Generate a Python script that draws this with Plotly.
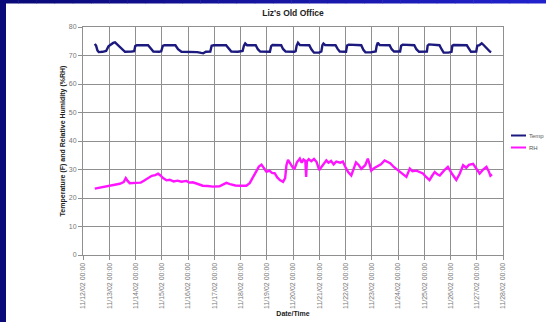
import pandas as pd
import plotly.graph_objects as go

# Logger readings, Liz's old office. Times are days since 11/12/02 00:00.
start = pd.Timestamp("2002-11-12 00:00")

temp_days = [
    0.45, 0.50, 0.55, 0.60, 0.75, 0.88,
    0.97, 1.05, 1.15, 1.22, 1.30, 1.42, 1.52, 1.60, 1.85, 1.95,
    1.99, 2.05, 2.48, 2.58, 2.68, 2.90, 2.98,
    3.04, 3.10, 3.52, 3.62, 3.75,
    4.10, 4.35, 4.50, 4.58, 4.68, 4.85,
    4.90, 4.98, 5.45, 5.55, 5.65, 5.90, 6.08,
    6.13, 6.18, 6.25, 6.58, 6.66, 6.75, 7.12,
    7.17, 7.22, 7.55, 7.62, 7.72, 8.05, 8.10,
    8.14, 8.19, 8.26, 8.62, 8.70, 8.80, 9.00, 9.08,
    9.12, 9.16, 9.22, 9.62, 9.70, 9.78, 10.02,
    10.06, 10.12, 10.60, 10.68, 10.76, 10.95, 11.15,
    11.19, 11.23, 11.30, 11.68, 11.76, 11.85, 12.08,
    12.12, 12.18, 12.62, 12.70, 12.80, 13.10,
    13.13, 13.18, 13.58, 13.66, 13.74, 13.92, 14.04,
    14.07, 14.12, 14.62, 14.70, 14.78, 14.98,
    15.02, 15.10, 15.19, 15.27, 15.40, 15.50, 15.55,
]
temp_f = [
    74.1, 73.4, 71.8, 71.2, 71.3, 71.6,
    73.2, 73.8, 74.4, 74.6, 73.9, 73.2, 72.0, 71.3, 71.4, 71.5,
    73.3, 73.6, 73.6, 72.4, 71.4, 71.3, 71.5,
    73.4, 73.6, 73.6, 72.2, 71.3,
    71.3, 71.2, 70.9, 70.8, 71.3, 71.4,
    73.4, 73.6, 73.6, 72.3, 71.4, 71.3, 71.6,
    73.4, 74.2, 73.6, 73.6, 72.2, 71.4, 71.3,
    73.3, 73.7, 73.6, 72.3, 71.4, 71.3, 71.5,
    73.5, 74.5, 73.7, 73.6, 72.2, 71.0, 71.0, 71.4,
    73.6, 74.2, 73.7, 73.6, 72.3, 71.4, 71.3,
    73.5, 73.8, 73.6, 72.0, 71.1, 71.1, 71.4,
    73.5, 74.5, 73.7, 73.6, 72.2, 71.4, 71.4,
    73.4, 73.8, 73.6, 72.2, 71.3, 71.4,
    73.5, 73.9, 73.6, 72.2, 71.0, 71.0, 71.3,
    73.4, 73.7, 73.6, 72.3, 71.3, 71.4,
    73.4, 73.6, 74.3, 73.6, 72.3, 71.4, 71.2,
]

rh_days = [
    0.45, 0.60, 0.80, 1.00, 1.20, 1.40, 1.55, 1.63, 1.70, 1.78,
    2.00, 2.20, 2.35, 2.50, 2.62, 2.75, 2.86, 2.95, 3.05, 3.18,
    3.30, 3.45, 3.60, 3.75, 3.94, 4.05, 4.18, 4.35, 4.56, 4.75,
    4.95, 5.20, 5.35, 5.46, 5.60, 5.80, 6.00, 6.22, 6.35, 6.54,
    6.70, 6.80, 6.90, 6.99, 7.10, 7.20, 7.30, 7.40, 7.50, 7.62,
    7.70, 7.75, 7.81, 7.90, 8.00, 8.06, 8.15, 8.26, 8.33, 8.40,
    8.47, 8.50, 8.53, 8.60, 8.70, 8.80, 8.90, 9.00, 9.10, 9.27,
    9.35, 9.45, 9.55, 9.65, 9.80, 9.90, 10.00, 10.10, 10.22, 10.32,
    10.40, 10.50, 10.60, 10.75, 10.85, 10.92, 10.98, 11.10, 11.24, 11.35,
    11.49, 11.60, 11.70, 11.85, 12.00, 12.07, 12.20, 12.32, 12.45, 12.55,
    12.70, 12.82, 12.95, 13.08, 13.20, 13.30, 13.40, 13.50, 13.59, 13.75,
    13.90, 14.05, 14.22, 14.35, 14.48, 14.60, 14.70, 14.86, 15.00, 15.11,
    15.25, 15.37, 15.45, 15.52, 15.58,
]
rh_pct = [
    23.3, 23.6, 24.0, 24.3, 24.6, 25.0, 25.6, 27.0, 26.0, 25.2,
    25.3, 25.4, 26.2, 27.2, 27.8, 28.0, 28.5, 27.9, 27.0, 26.2,
    26.4, 25.8, 26.1, 25.7, 26.0, 25.4, 25.5, 25.0, 24.3, 24.2,
    24.0, 24.1, 24.8, 25.3, 24.9, 24.4, 24.3, 24.3, 25.2, 28.6,
    31.0, 31.7, 30.5, 29.2, 29.6, 28.8, 28.7, 27.2, 26.3, 25.7,
    27.0, 31.5, 33.4, 31.8, 30.6, 30.3, 32.5, 33.8, 32.4, 33.5,
    33.0, 27.4, 32.8, 33.6, 32.9, 33.7, 32.6, 29.8, 31.0, 33.2,
    32.4, 33.0, 31.8, 32.8, 32.4, 32.8, 30.8, 29.1, 27.9, 30.2,
    32.5, 31.6, 30.2, 31.5, 33.8, 31.8, 29.6, 30.5, 31.4, 31.8,
    33.2, 32.6, 32.2, 30.8, 29.8, 29.1, 28.3, 27.4, 30.3, 29.4,
    29.6, 29.0, 28.6, 27.3, 26.3, 27.8, 29.1, 28.3, 27.9, 29.6,
    30.9, 28.6, 26.3, 28.5, 31.5, 30.6, 31.6, 32.0, 30.2, 28.6,
    30.0, 30.9, 29.5, 27.8, 28.3,
]

y_ticks = [0, 10, 20, 30, 40, 50, 60, 70, 80]
x_range = ["2002-11-12 00:00", "2002-11-28 00:00"]

temp_x = start + pd.to_timedelta(temp_days, unit="D")
rh_x = start + pd.to_timedelta(rh_days, unit="D")

TEMP_COLOR = "#1c1a7e"
RH_COLOR = "#ff14ff"
FONT = "Liberation Sans, Arial, sans-serif"
GRID = "#8f8f8f"

fig = go.Figure()
fig.add_trace(go.Scatter(x=temp_x, y=temp_f, mode="lines", name="Temp",
                         line=dict(color=TEMP_COLOR, width=2.4)))
fig.add_trace(go.Scatter(x=rh_x, y=rh_pct, mode="lines", name="RH",
                         line=dict(color=RH_COLOR, width=2.4)))

W, H = 546, 322
ML, MR, MT, MB = 83, 43, 27, 67
PW, PH = W - ML - MR, H - MT - MB


def px_x(px):
    return (px - ML) / PW


def px_y(py):
    return (H - MB - py) / PH


shapes = []
# slide frame: dark left edge and a blue top edge that brightens to the right
shapes.append(dict(type="rect", xref="paper", yref="paper",
                   x0=px_x(0), x1=px_x(6), y0=px_y(H), y1=px_y(0),
                   fillcolor="#0a0a78", line_width=0, layer="above"))
n_seg = 30
c0, c1 = (10, 10, 120), (34, 34, 205)
for i in range(n_seg):
    t = i / (n_seg - 1)
    col = "rgb({},{},{})".format(*[int(a + (b - a) * t) for a, b in zip(c0, c1)])
    shapes.append(dict(type="rect", xref="paper", yref="paper",
                       x0=px_x(W * i / n_seg), x1=px_x(W * (i + 1) / n_seg + 0.5),
                       y0=px_y(3.5), y1=px_y(0),
                       fillcolor=col, line_width=0, layer="above"))

# legend keys
legend_rows = [("Temp", TEMP_COLOR, 135.5), ("RH", RH_COLOR, 147.5)]
annotations = []
for label, col, py in legend_rows:
    shapes.append(dict(type="line", xref="paper", yref="paper",
                       x0=px_x(511), x1=px_x(526), y0=px_y(py), y1=px_y(py),
                       line=dict(color=col, width=2)))
    annotations.append(dict(text=label, xref="paper", yref="paper",
                            x=px_x(527), y=px_y(py), xanchor="left", yanchor="middle",
                            showarrow=False, font=dict(family=FONT, size=6, color="#555")))

fig.update_layout(
    width=W, height=H,
    margin=dict(l=ML, r=MR, t=MT, b=MB),
    paper_bgcolor="white", plot_bgcolor="white",
    showlegend=False,
    title=dict(text="<b>Liz's Old Office</b>", x=293 / W,
               xanchor="center", y=1 - 13 / H, yanchor="middle", yref="container",
               font=dict(family=FONT, size=8.5, color="#222")),
    shapes=shapes,
    annotations=annotations,
    font=dict(family=FONT),
)

fig.update_xaxes(
    type="date", range=x_range, dtick=86400000, tick0=x_range[0],
    tickformat="%m/%d/%y %H:%M", tickangle=-90,
    tickfont=dict(family=FONT, size=7, color="#777"),
    ticks="outside", ticklen=4, tickcolor=GRID,
    showgrid=True, gridcolor=GRID, gridwidth=1,
    showline=True, linecolor=GRID, linewidth=1, mirror=True,
    title=dict(text="<b>Date/Time</b>", standoff=3,
               font=dict(family=FONT, size=7, color="#222")),
    automargin=False,
)
fig.update_yaxes(
    range=[0, 80], tickvals=y_ticks,
    tickfont=dict(family=FONT, size=7, color="#777"),
    ticks="outside", ticklen=4, tickcolor=GRID,
    showgrid=True, gridcolor=GRID, gridwidth=1,
    showline=True, linecolor=GRID, linewidth=1, mirror=True,
    zeroline=False,
    title=dict(text="<b>Temperature (F) and Relative Humidity (%RH)</b>", standoff=2,
               font=dict(family=FONT, size=7, color="#222")),
    automargin=False,
)

fig.write_html("out.html")
